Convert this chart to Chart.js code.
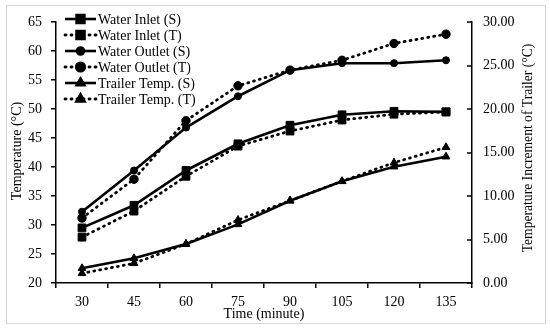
<!DOCTYPE html>
<html>
<head>
<meta charset="utf-8">
<script src="https://cdn.jsdelivr.net/npm/chart.js@4/dist/chart.umd.min.js"></script>
<style>
  body { margin: 0; background: #fff; }
  #frame { position: absolute; left: 6px; top: 5px; width: 538px; height: 317px; border: 1px solid #d9d9d9; }
  #wrap { position: absolute; left: 0; top: 0; width: 550px; height: 330px; }
</style>
</head>
<body>
<div id="frame"></div>
<div id="wrap"><canvas id="chart" width="550" height="330"></canvas></div>
<script>
// time in minutes
var times = ['30', '45', '60', '75', '90', '105', '120', '135'];

// water temps, left axis (°C)
var inletS = [29.5, 33.4, 39.4, 44.0, 47.2, 49.0, 49.6, 49.5];
var inletT = [27.9, 32.4, 38.4, 43.6, 46.2, 48.1, 49.1, 49.5];
var outletS = [32.3, 39.4, 46.8, 52.2, 56.7, 57.9, 57.9, 58.4];
var outletT = [31.2, 37.9, 48.0, 54.0, 56.7, 58.4, 61.3, 62.9];

// trailer increment, right axis (°C)
var trailerS = [1.69, 2.84, 4.48, 6.74, 9.46, 11.69, 13.37, 14.52];
var trailerT = [1.11, 2.26, 4.48, 7.24, 9.46, 11.69, 13.83, 15.60];

var leftTitle = 'Temperature (°C)';
var rightTitle = 'Temperature Increment of Trailer (°C)';

var serif = 'Liberation Serif';
var dotted = [1, 5];

function series(label, data, axis, dash, style, radius) {
  return {
    label: label,
    data: data,
    yAxisID: axis,
    borderColor: '#000',
    backgroundColor: '#000',
    borderWidth: dash ? 2.8 : 2.6,
    borderDash: dash ? dotted : [],
    borderCapStyle: dash ? 'round' : 'butt',
    pointStyle: style,
    pointRadius: radius,
    pointBorderWidth: 1,
    pointBackgroundColor: '#000',
    pointBorderColor: '#000',
    tension: 0
  };
}

function vText(ctx, text, x, y) {
  ctx.save();
  ctx.translate(x, y);
  ctx.rotate(-Math.PI / 2);
  ctx.textAlign = 'center';
  ctx.textBaseline = 'middle';
  ctx.fillText(text, 0, 0);
  ctx.restore();
}

// legend drawn by hand so the line sample shows with the marker
var legendPlugin = {
  id: 'lineLegend',
  afterDraw: function(chart) {
    var ctx = chart.ctx;
    ctx.save();
    chart.data.datasets.forEach(function(ds, i) {
      var y = 19 + i * 16;
      ctx.strokeStyle = '#000';
      ctx.fillStyle = '#000';
      ctx.lineWidth = ds.borderWidth;
      ctx.lineCap = ds.borderCapStyle;
      ctx.setLineDash(ds.borderDash);
      ctx.beginPath();
      ctx.moveTo(65, y);
      ctx.lineTo(96, y);
      ctx.stroke();
      ctx.setLineDash([]);
      ctx.lineCap = 'butt';
      Chart.helpers.drawPoint(ctx, {pointStyle: ds.pointStyle, radius: ds.pointRadius, borderWidth: 1, rotation: 0}, 80.5, y);
      ctx.font = '14px "' + serif + '"';
      ctx.textBaseline = 'middle';
      ctx.textAlign = 'left';
      ctx.fillText(ds.label, 98, y + 1);
    });

    // right axis ticks point inward
    var s = chart.scales.y2;
    ctx.strokeStyle = '#000';
    ctx.lineWidth = 1.5;
    s.ticks.forEach(function(t) {
      var py = Math.round(s.getPixelForValue(t.value));
      ctx.beginPath();
      ctx.moveTo(s.left - 5, py);
      ctx.lineTo(s.left, py);
      ctx.stroke();
    });

    // both y titles read bottom to top
    ctx.fillStyle = '#000';
    ctx.font = '14px "' + serif + '"';
    vText(ctx, leftTitle, 17, 151);
    ctx.font = '13.6px "' + serif + '"';
    vText(ctx, rightTitle, 528, 148);
    ctx.restore();
  }
};

var font = {family: serif, size: 14};

new Chart(document.getElementById('chart'), {
  type: 'line',
  data: {
    labels: times,
    datasets: [
      series('Water Inlet (S)', inletS, 'y', false, 'rect', 5.5),
      series('Water Inlet (T)', inletT, 'y', true, 'rect', 5.5),
      series('Water Outlet (S)', outletS, 'y', false, 'circle', 3.5),
      series('Water Outlet (T)', outletT, 'y', true, 'circle', 4.2),
      series('Trailer Temp. (S)', trailerS, 'y2', false, 'triangle', 4.5),
      series('Trailer Temp. (T)', trailerT, 'y2', true, 'triangle', 4.5)
    ]
  },
  options: {
    responsive: false,
    animation: false,
    layout: {padding: {top: 22, right: 7, left: 0, bottom: 0}},
    plugins: {legend: {display: false}, tooltip: {enabled: false}},
    scales: {
      x: {
        offset: true,
        grid: {offset: true, drawOnChartArea: false, tickLength: 5, color: '#000', lineWidth: 1.5},
        border: {color: '#000', width: 1.5},
        ticks: {color: '#000', font: font, padding: 6, maxRotation: 0},
        title: {display: true, text: 'Time (minute)', color: '#000', font: font, padding: {top: 2, bottom: 7}},
        afterFit: function(s) { s.height = 47; }
      },
      y: {
        position: 'left',
        min: 20,
        max: 65,
        grid: {drawOnChartArea: false, tickLength: 5, color: '#000', lineWidth: 1.5},
        border: {color: '#000', width: 1.5},
        ticks: {stepSize: 5, color: '#000', font: font, padding: 9},
        afterFit: function(s) { s.width = 56; }
      },
      y2: {
        position: 'right',
        min: 0,
        max: 30,
        grid: {drawOnChartArea: false, drawTicks: false},
        border: {color: '#000', width: 1.5},
        ticks: {
          stepSize: 5, color: '#000', font: font, padding: 11,
          callback: function(v) { return v.toFixed(2); }
        },
        afterFit: function(s) { s.width = 71; }
      }
    }
  },
  plugins: [legendPlugin]
});
</script>
</body>
</html>
